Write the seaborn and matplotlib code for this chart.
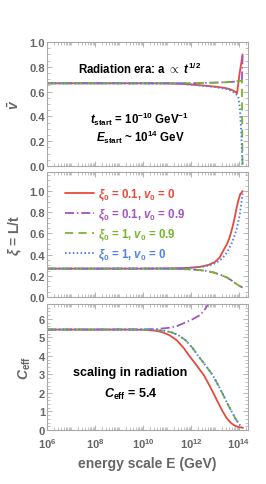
import numpy as np
import pandas as pd
import matplotlib
matplotlib.use("Agg")
import matplotlib.pyplot as plt
import matplotlib.ticker as mticker
import seaborn as sns

sns.set_style("ticks")
plt.rcParams['font.family'] = ['Liberation Sans', 'DejaVu Sans']
plt.rcParams['font.weight'] = 'bold'
plt.rcParams['mathtext.fontset'] = 'custom'
plt.rcParams['mathtext.rm'] = 'Liberation Sans:bold'
plt.rcParams['mathtext.bf'] = 'Liberation Sans:bold'
plt.rcParams['mathtext.it'] = 'Liberation Sans:italic:bold'
plt.rcParams['mathtext.sf'] = 'Liberation Sans:bold'
plt.rcParams['mathtext.default'] = 'it'

# --- Daten (log10 der Energie) ---
labels = [r"$\xi_0$ = 0.1, $v_0$ = 0",
          r"$\xi_0$ = 0.1, $v_0$ = 0.9",
          r"$\xi_0$ = 1, $v_0$ = 0.9",
          r"$\xi_0$ = 1, $v_0$ = 0"]
colors = ["#e8493b", "#a154c4", "#78b52e", "#5281ea"]
styles = ["-", (0, (5, 1.6, 0.8, 1.6)), (0, (4.5, 3)), (0, (0.8, 1.2))]

# Panel 1: mittlere Geschwindigkeit v
v_red_logE = [6, 10, 11, 11.5, 12, 12.5, 13, 13.3, 13.5, 13.65, 13.78, 13.87, 13.92, 14.02, 14.15]
v_red = [0.667, 0.667, 0.666, 0.663, 0.657, 0.649, 0.64, 0.633, 0.626, 0.617, 0.606, 0.594, 0.587, 0.74, 0.9]
v_pur_logE = [6, 11, 12, 12.5, 13, 13.5, 13.8, 14.0, 14.12, 14.15]
v_pur = [0.667, 0.667, 0.668, 0.670, 0.672, 0.676, 0.680, 0.685, 0.69, 0.89]
v_grn_logE = [6, 11, 12, 12.5, 13, 13.5, 13.8, 14.0, 14.12, 14.145]
v_grn = [0.667, 0.667, 0.668, 0.670, 0.672, 0.676, 0.680, 0.685, 0.688, 0.0]
v_blu_logE = [6, 10, 11, 11.5, 12, 12.5, 13, 13.5, 13.7, 13.85, 13.97, 14.04, 14.08, 14.12, 14.15]
v_blu = [0.667, 0.667, 0.666, 0.664, 0.657, 0.648, 0.637, 0.62, 0.605, 0.585, 0.56, 0.46, 0.325, 0.137, 0.0]

# Panel 2: xi = L/t
xi_red_logE = [6, 10, 11, 11.5, 12, 12.3, 12.5, 12.75, 13.0, 13.2, 13.35, 13.5, 13.62, 13.73,
               13.83, 13.9, 13.97, 14.05, 14.15]
xi_red = [0.268, 0.268, 0.27, 0.272, 0.277, 0.283, 0.29, 0.305, 0.33, 0.375, 0.44, 0.5, 0.57, 0.66,
          0.76, 0.84, 0.91, 0.97, 1.0]
xi_pur_logE = [6, 10, 11, 11.5, 12, 12.4, 12.7, 12.93, 13.2, 13.49, 13.7, 13.9, 14.05, 14.15]
xi_pur = [0.268, 0.268, 0.267, 0.265, 0.26, 0.253, 0.243, 0.232, 0.212, 0.185, 0.155, 0.122, 0.1, 0.09]
xi_grn_logE = xi_pur_logE
xi_grn = xi_pur
xi_blu_logE = [6, 10, 11, 11.5, 12, 12.5, 12.8, 13.07, 13.25, 13.42, 13.57, 13.7, 13.8, 13.9,
               13.97, 14.04, 14.1, 14.15]
xi_blu = [0.268, 0.268, 0.269, 0.27, 0.274, 0.287, 0.3, 0.325, 0.355, 0.395, 0.45, 0.51, 0.57, 0.64,
          0.71, 0.79, 0.89, 0.98]

# Panel 3: C_eff
c_red_logE = [6, 9.5, 10, 10.5, 10.8, 11.1, 11.4, 11.7, 11.9, 12.2, 12.54, 12.75, 12.93, 13.12,
              13.32, 13.5, 13.65, 13.8, 14.0, 14.17]
c_red = [5.42, 5.42, 5.41, 5.36, 5.28, 5.12, 4.85, 4.42, 4.05, 3.55, 2.95, 2.45, 2.0, 1.5,
         1.0, 0.62, 0.4, 0.25, 0.15, 0.12]
c_pur_logE = [6, 10, 10.5, 11, 11.4, 11.8, 12.1, 12.375, 12.55, 12.7, 12.8]
c_pur = [5.42, 5.43, 5.45, 5.5, 5.6, 5.82, 6.0, 6.2, 6.45, 6.75, 6.95]
c_blu_logE = [6, 9.9, 10.4, 10.87, 11.17, 11.47, 11.77, 12.07, 12.27, 12.57, 12.91, 13.12, 13.3,
              13.49, 13.69, 13.85, 13.97, 14.05, 14.1]
c_blu = [5.42, 5.42, 5.41, 5.36, 5.28, 5.12, 4.85, 4.42, 4.05, 3.55, 2.95, 2.45, 2.0,
         1.5, 1.0, 0.62, 0.38, 0.24, 0.17]
c_grn_logE = c_blu_logE
c_grn = c_blu

panels = [
    [(v_red_logE, v_red), (v_pur_logE, v_pur), (v_grn_logE, v_grn), (v_blu_logE, v_blu)],
    [(xi_red_logE, xi_red), (xi_pur_logE, xi_pur), (xi_grn_logE, xi_grn), (xi_blu_logE, xi_blu)],
    [(c_red_logE, c_red), (c_pur_logE, c_pur), (c_grn_logE, c_grn), (c_blu_logE, c_blu)],
]

frame_col = "#a8a8a8"
tick_col = "#666666"

fig = plt.figure(figsize=(2.66, 4.85), dpi=100)
W, H = 266.0, 485.0
boxes = [(43, 167), (173, 298), (305, 431)]
axes = []
for top, bot in boxes:
    ax = fig.add_axes([47 / W, 1 - bot / H, 201 / W, (bot - top) / H])
    axes.append(ax)

ylims = [(0, 1.0), (0, 1.18), (0, 6.8)]
ymajor = [0.2, 0.2, 1.0]
yminor = [0.05, 0.05, 0.2]
ylabels = [r"$\bar{v}$", r"$\xi$ = L/t", r"$C_{\rm eff}$"]
ylabel_x = [-0.16, -0.16, -0.11]

for i, ax in enumerate(axes):
    for j, (lx, ly) in enumerate(panels[i]):
        df = pd.DataFrame({"E": 10.0 ** np.array(lx), "y": ly})
        sns.lineplot(data=df, x="E", y="y", ax=ax, color=colors[j], linestyle=styles[j],
                     lw=1.3 if j != 3 else 1.4, label=labels[j], legend=False, sort=False)
    ax.set_xscale("log")
    ax.set_xlim(1e6, 10 ** 14.375)
    ax.set_ylim(*ylims[i])
    ax.yaxis.set_major_locator(mticker.MultipleLocator(ymajor[i]))
    ax.yaxis.set_minor_locator(mticker.MultipleLocator(yminor[i]))
    if i < 2:
        ax.yaxis.set_major_formatter(mticker.FormatStrFormatter("%.1f"))
    else:
        ax.yaxis.set_major_formatter(mticker.FormatStrFormatter("%d"))
    ax.xaxis.set_major_locator(mticker.FixedLocator([10.0 ** k for k in range(6, 15, 2)]))
    ax.xaxis.set_minor_locator(mticker.LogLocator(base=10, subs=np.arange(1, 10), numticks=30))
    ax.xaxis.set_minor_formatter(mticker.NullFormatter())
    if i == 2:
        ax.xaxis.set_major_formatter(mticker.FuncFormatter(
            lambda v, p: r"$\mathrm{10^{%d}}$" % int(round(np.log10(v)))))
    else:
        ax.xaxis.set_major_formatter(mticker.NullFormatter())
    for s in ax.spines.values():
        s.set_color(frame_col)
        s.set_linewidth(0.8)
    ax.tick_params(which="both", direction="in", top=True, right=True, color=frame_col,
                   labelcolor=tick_col, labelsize=8, pad=1.5)
    ax.tick_params(axis="x", which="major", pad=4.5)
    ax.tick_params(which="major", length=3.5, width=0.6)
    ax.tick_params(which="minor", length=2, width=0.5)
    ax.set_xlabel("")
    ax.set_ylabel(ylabels[i], color=tick_col, fontsize=10, fontweight="bold")
    ax.yaxis.label.set_va("center")
    ax.yaxis.set_label_coords(ylabel_x[i], 0.5)
    for lab in ax.get_yticklabels() + ax.get_xticklabels():
        lab.set_fontweight("bold")

axes[2].set_xlabel("energy scale E (GeV)", color=tick_col, fontsize=10, fontweight="bold", labelpad=4)

# Texte
axes[0].text(0.463, 0.79, r"Radiation era: a $\propto$ $t^{1/2}$", transform=axes[0].transAxes,
             ha="center", va="center", fontsize=8.3, fontweight="bold", color="black")
axes[0].text(0.46, 0.387, r"$t_{\rm start}$ = $\mathrm{10^{-10}}$ GeV$^{\mathrm{-1}}$",
             transform=axes[0].transAxes, ha="center", va="center", fontsize=8.3,
             fontweight="bold", color="black")
axes[0].text(0.463, 0.242, r"$E_{\rm start}$ ~ $\mathrm{10^{14}}$ GeV", transform=axes[0].transAxes,
             ha="center", va="center", fontsize=8.3, fontweight="bold", color="black")
axes[2].text(0.413, 0.46, "scaling in radiation", transform=axes[2].transAxes,
             ha="center", va="center", fontsize=9, fontweight="bold", color="black")
axes[2].text(0.418, 0.294, r"$C_{\rm eff}$ = 5.4", transform=axes[2].transAxes,
             ha="center", va="center", fontsize=9, fontweight="bold", color="black")

# Legende im mittleren Panel
handles, labs = axes[1].get_legend_handles_labels()
leg = axes[1].legend(handles, labs, loc="upper left", bbox_to_anchor=(0.09, 0.88),
                     frameon=False, fontsize=8.3, handlelength=2.5, handletextpad=0.35,
                     labelspacing=0.42, borderpad=0, borderaxespad=0, labelcolor="linecolor")

fig.savefig("out.png", dpi=100)
